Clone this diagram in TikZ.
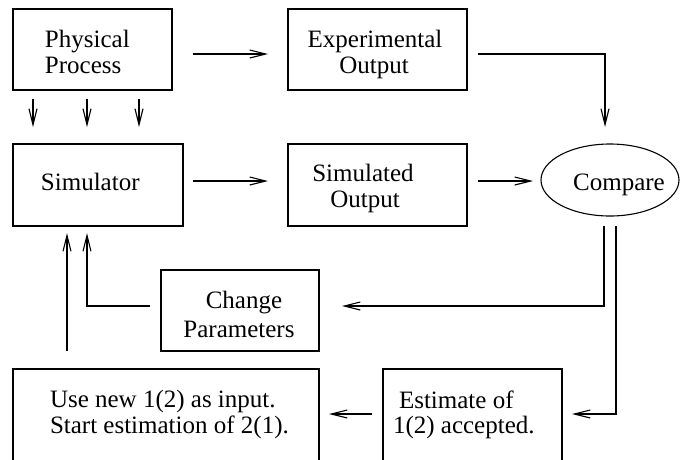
\documentclass[tikz,border=0pt]{standalone}
\usepackage{fontspec}
\setmainfont{Liberation Serif}
\usetikzlibrary{arrows.meta,shapes.geometric}
\begin{document}
\begin{tikzpicture}[x=1pt,y=-1pt,
  every node/.style={inner sep=0pt,outer sep=0pt},
  box/.style={draw,line width=1.1pt,rectangle,anchor=north west},
  txt/.style={font=\fontsize{25}{26}\selectfont},
  arr/.style={line width=1.1pt,-{Straight Barb[length=16pt,width=8pt,line width=1.1pt]}},
  ln/.style={line width=1.1pt}]
\useasboundingbox (0,0) rectangle (681,459);
\clip (0,0) rectangle (681,459);
% boxes
\node[box,minimum width=159pt,minimum height=81pt] (pp) at (13,9) {};
\node[box,minimum width=179pt,minimum height=81pt] (eo) at (288,9) {};
\node[box,minimum width=170pt,minimum height=82pt] (sim) at (13,144) {};
\node[box,minimum width=179pt,minimum height=82pt] (so) at (288,144) {};
\node[draw,line width=1.1pt,ellipse,minimum width=138pt,minimum height=72pt] (cmp) at (610,180) {};
\node[box,minimum width=158pt,minimum height=81pt] (cp) at (161,270) {};
\node[box,minimum width=306pt,minimum height=120pt] (use) at (13,369) {};
\node[box,minimum width=179pt,minimum height=120pt] (est) at (383,369) {};
% texts
\node[txt,anchor=base west] (t1a) at (45,47) {Physical};
\node[txt,anchor=base west] (t1b) at (45,73) {Process};
\node[txt,anchor=base] (t2a) at (375,47) {Experimental};
\node[txt,anchor=base] (t2b) at (374,73) {Output};
\node[txt,anchor=base west] (t3) at (41,190) {Simulator};
\node[txt,anchor=base] (t4a) at (363,181) {Simulated};
\node[txt,anchor=base] (t4b) at (365,207) {Output};
\node[txt,anchor=base] (t5) at (619,190) {Compare};
\node[txt,anchor=base] (t6a) at (244,308) {Change};
\node[txt,anchor=base] (t6b) at (239,337) {Parameters};
\node[txt,anchor=base west] (t7a) at (50,407) {Use new 1(2) as input.};
\node[txt,anchor=base west] (t7b) at (50,433) {Start estimation of 2(1).};
\node[txt,anchor=base west] (t8a) at (399,408) {Estimate of};
\node[txt,anchor=base west] (t8b) at (393,433) {1(2) accepted.};
% connectors
\draw[arr] ([xshift=21pt,yshift=-4.5pt]pp.east) -- ([xshift=-20pt,yshift=-4.5pt]eo.west);
\draw[arr] ([xshift=10pt,yshift=4pt]sim.east) -- ([xshift=-20pt,yshift=4pt]so.west);
\draw[arr] ([xshift=11pt,yshift=4pt]so.east) -- ([xshift=-8pt,yshift=-1pt]cmp.west);
\draw[arr] ([xshift=11pt,yshift=-4.5pt]eo.east) -| ([xshift=-5pt,yshift=17pt]cmp.north);
\foreach \dx/\nm in {20/a,74/b,126/c}
  \draw[arr] ([xshift=\dx pt,yshift=-9pt]pp.south west) -- ([xshift=\dx pt,yshift=17pt]sim.north west);
\draw[arr] ([xshift=-6pt,yshift=-10pt]cmp.south) |- ([xshift=23pt,yshift=4.5pt]cp.east);
\draw[arr] ([xshift=6pt,yshift=-10pt]cmp.south) |- ([xshift=10pt,yshift=-45pt]est.north east);
\draw[arr] ([xshift=-11pt,yshift=-45pt]est.north west) -- ([xshift=10pt,yshift=-45pt]use.north east);
\draw[arr] ([xshift=54pt,yshift=18pt]use.north west) -- ([xshift=54pt,yshift=-7pt]sim.south west);
\draw[arr] ([xshift=-11pt,yshift=4.5pt]cp.west) -| ([xshift=74pt,yshift=-7pt]sim.south west);
\end{tikzpicture}
\end{document}
